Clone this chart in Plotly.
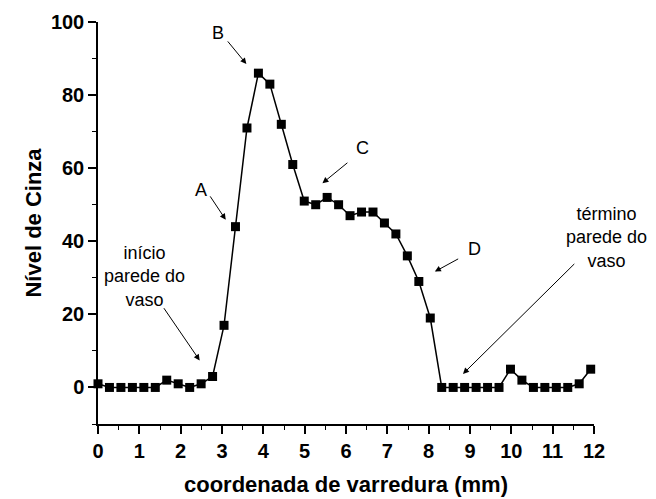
import plotly.graph_objects as go

# scan coordinate (mm) and grey level
x_mm = [round(i * 0.2772, 3) for i in range(44)]
grey = [1, 0, 0, 0, 0, 0, 2, 1, 0, 1,
        3, 17, 44, 71, 86, 83, 72, 61, 51, 50,
        52, 50, 47, 48, 48, 45, 42, 36, 29, 19,
        0, 0, 0, 0, 0, 0, 5, 2, 0, 0,
        0, 0, 1, 5]

x_ticks = list(range(0, 13))
y_ticks = [0, 20, 40, 60, 80, 100]
X_RANGE = [0, 12]
Y_RANGE = [-10, 100]

# annotation texts with (text x, text y) and arrow (tail x, tail y, head x, head y), in data units
labels = [
    ("B", 2.90, 97.0, 3.11, 95.1, 3.59, 88.5),
    ("A", 2.48, 53.9, 2.69, 52.7, 3.09, 45.9),
    ("C", 6.41, 65.5, 6.07, 61.8, 5.43, 55.9),
    ("D", 9.11, 37.9, 8.75, 35.4, 8.15, 31.7),
    ("início<br>parede do<br>vaso", 1.13, 30.3, 1.57, 22.1, 2.46, 7.4),
    ("término<br>parede do<br>vaso", 12.31, 40.9, 11.56, 34.2, 8.83, 3.7),
]


def to_paper(x, y):
    return ((x - X_RANGE[0]) / (X_RANGE[1] - X_RANGE[0]),
            (y - Y_RANGE[0]) / (Y_RANGE[1] - Y_RANGE[0]))


fig = go.Figure()
fig.add_trace(go.Scatter(
    x=x_mm, y=grey, mode="lines+markers",
    line=dict(color="black", width=1.5),
    marker=dict(symbol="square", size=9, color="black"),
    cliponaxis=False, showlegend=False,
))

font_txt = dict(family="Liberation Sans, Arial", size=18, color="black")
annotations = []
for text, tx, ty, ax0, ay0, hx, hy in labels:
    px, py = to_paper(tx, ty)
    annotations.append(dict(x=px, y=py, xref="paper", yref="paper", text=text,
                            showarrow=False, font=font_txt,
                            xanchor="center", yanchor="middle", align="center"))
    annotations.append(dict(x=hx, y=hy, ax=ax0, ay=ay0, xref="x", yref="y",
                            axref="x", ayref="y", text="", showarrow=True,
                            arrowhead=2, arrowsize=1.2, arrowwidth=1, arrowcolor="black"))

bold = dict(family="Liberation Sans, Arial", size=20, color="black", weight="bold")
fig.update_layout(
    width=648, height=491,
    margin=dict(l=90, r=62, t=14, b=75),
    paper_bgcolor="white", plot_bgcolor="white",
    annotations=annotations,
    xaxis=dict(
        range=X_RANGE, tickvals=x_ticks, showgrid=False, zeroline=False,
        showline=True, linecolor="black", linewidth=1.5, automargin=False,
        ticks="outside", ticklen=8, tickwidth=1.5, tickcolor="black",
        minor=dict(dtick=0.5, ticks="outside", ticklen=4, tickwidth=1.2, tickcolor="black"),
        tickfont=bold,
        title=dict(text="coordenada de varredura (mm)", standoff=16,
                   font=dict(family="Liberation Sans, Arial", size=22, color="black", weight="bold")),
    ),
    yaxis=dict(
        range=Y_RANGE, tickvals=y_ticks, showgrid=False, zeroline=False,
        showline=True, linecolor="black", linewidth=1.5, automargin=False,
        ticks="outside", ticklen=8, tickwidth=1.5, tickcolor="black",
        minor=dict(dtick=10, tick0=0, ticks="outside", ticklen=4, tickwidth=1.2, tickcolor="black"),
        tickfont=bold,
        title=dict(text="Nível de Cinza", standoff=3,
                   font=dict(family="Liberation Sans, Arial", size=22, color="black", weight="bold")),
    ),
)

fig.write_html("out.html")
